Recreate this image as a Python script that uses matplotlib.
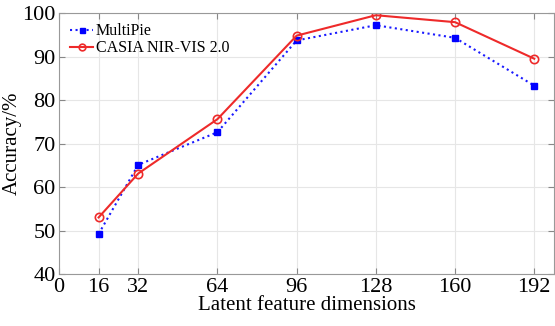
import numpy as np
import matplotlib.pyplot as plt

plt.rcParams['font.family'] = ['Liberation Serif', 'DejaVu Serif']

dims = [16, 32, 64, 96, 128, 160, 192]
multipie = [49.2, 65.1, 72.6, 93.7, 97.2, 94.3, 83.3]
casia = [53.0, 63.1, 75.6, 94.8, 99.5, 97.9, 89.5]
xticks = [0, 16, 32, 64, 96, 128, 160, 192]
yticks = [40, 50, 60, 70, 80, 90, 100]

fig = plt.figure(figsize=(5.55, 3.26), dpi=100)
ax = fig.add_axes([0.1063, 0.1595, 0.892, 0.8005])

ax.plot(dims, multipie, color='#1a1aff', linestyle=':', linewidth=1.5,
        marker='s', markersize=4.5, markerfacecolor='#0000ff',
        markeredgecolor='#0000ff', label='MultiPie')
ax.plot(dims, casia, color='#ee2a2a', linestyle='-', linewidth=1.5,
        marker='o', markersize=6, markerfacecolor='none',
        markeredgecolor='#ee2a2a', markeredgewidth=1.2,
        label='CASIA NIR-VIS 2.0')

ax.set_xlim(0, 200)
ax.set_ylim(40, 100)
ax.set_xticks(xticks)
ax.set_yticks(yticks)
ax.grid(True, color='#e6e6e6', linewidth=0.8)
ax.set_axisbelow(True)
ax.tick_params(direction='in', top=True, right=True, labelsize=16,
               color='#888888', length=4)
ax.tick_params(axis='x', pad=3)
ax.tick_params(axis='y', pad=2.5)
for s in ax.spines.values():
    s.set_color('#999999')

ax.set_xlabel('Latent feature dimensions', fontsize=15, labelpad=-1)
ax.set_ylabel('Accuracy/%', fontsize=15, labelpad=0)

ax.legend(loc='upper left', frameon=False, fontsize=11.5, handlelength=1.4,
          handletextpad=0.2, borderaxespad=0, labelspacing=0.05,
          markerscale=0.8, bbox_to_anchor=(0.01, 0.985))

fig.savefig('out.png', dpi=100)
